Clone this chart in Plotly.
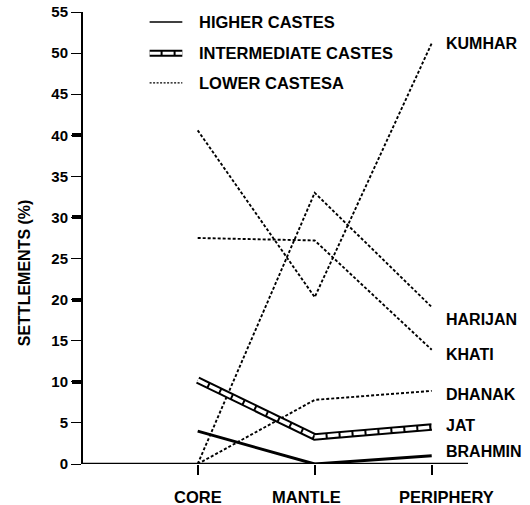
import plotly.graph_objects as go

zones = ["CORE", "MANTLE", "PERIPHERY"]
y_ticks = [0, 5, 10, 15, 20, 25, 30, 35, 40, 45, 50, 55]
y_major = [10, 20, 30, 40]

# Higher castes
brahmin = [4, 0, 1]
# Intermediate castes
jat = [10.2, 3.3, 4.5]
# Lower castes
kumhar = [40.6, 20.3, 51.2]
harijan = [0, 33, 19.1]
khati = [27.5, 27.2, 13.9]
dhanak = [0, 7.8, 8.9]

FONT = "Liberation Sans, Arial, sans-serif"
fig = go.Figure()

for name, vals in [("KUMHAR", kumhar), ("HARIJAN", harijan), ("KHATI", khati), ("DHANAK", dhanak)]:
    fig.add_trace(go.Scatter(x=zones, y=vals, mode="lines", name=name, showlegend=False,
                             line=dict(color="black", width=1.9, dash="3px,2px")))

# Intermediate castes: hollow double line
fig.add_trace(go.Scatter(x=zones, y=jat, mode="lines", showlegend=False,
                         line=dict(color="black", width=7.5)))
fig.add_trace(go.Scatter(x=zones, y=jat, mode="lines", showlegend=False,
                         line=dict(color="white", width=3.5, dash="11px,2px")))

# Higher castes
fig.add_trace(go.Scatter(x=zones, y=brahmin, mode="lines", showlegend=False,
                         line=dict(color="black", width=3), yaxis="y2"))

labels = [("KUMHAR", kumhar[-1], 0), ("HARIJAN", harijan[-1], -12), ("KHATI", khati[-1], -5),
          ("DHANAK", dhanak[-1], -4), ("JAT", jat[-1], 2), ("BRAHMIN", brahmin[-1], 4)]
for name, v, ys in labels:
    fig.add_annotation(x="PERIPHERY", y=v, text="<b>%s</b>" % name, showarrow=False,
                       xanchor="left", yanchor="middle", xshift=12, yshift=ys,
                       font=dict(family=FONT, size=16, color="black"))

# category labels under the axis
for z, xs in zip(zones, [0, -8, 15]):
    fig.add_annotation(x=z, y=0, text="<b>%s</b>" % z, showarrow=False, xanchor="center",
                       yanchor="middle", xshift=xs, yshift=-33,
                       font=dict(family=FONT, size=16.5, color="black"))

# Legend (drawn manually)
leg_x0, leg_x1, leg_tx = 0.173, 0.258, 0.297
rows = [0.978, 0.909, 0.843]
fig.add_shape(type="line", xref="paper", yref="paper", x0=leg_x0, x1=leg_x1, y0=rows[0], y1=rows[0],
              line=dict(color="black", width=1.5))
fig.add_shape(type="line", xref="paper", yref="paper", x0=leg_x0, x1=leg_x1, y0=rows[1], y1=rows[1],
              line=dict(color="black", width=7))
fig.add_shape(type="line", xref="paper", yref="paper", x0=leg_x0, x1=leg_x1, y0=rows[1], y1=rows[1],
              line=dict(color="white", width=3, dash="11px,2px"))
fig.add_shape(type="line", xref="paper", yref="paper", x0=leg_x0, x1=leg_x1, y0=rows[2], y1=rows[2],
              line=dict(color="black", width=1.2, dash="2px,1.5px"))
for txt, ry in zip(["HIGHER CASTES", "INTERMEDIATE CASTES", "LOWER CASTESA"], rows):
    fig.add_annotation(xref="paper", yref="paper", x=leg_tx, y=ry, text="<b>%s</b>" % txt,
                       showarrow=False, xanchor="left", yanchor="middle",
                       font=dict(family=FONT, size=16.5, color="black"))

fig.add_annotation(xref="paper", yref="paper", x=0, y=0.422, xshift=-59, text="<b>SETTLEMENTS (%)</b>",
                   textangle=-90, showarrow=False, xanchor="center", yanchor="middle",
                   font=dict(family=FONT, size=16, color="black"))

fig.update_layout(
    width=530, height=505,
    margin=dict(l=83, r=62, t=12, b=41),
    plot_bgcolor="white", paper_bgcolor="white",
    showlegend=False,
    font=dict(family=FONT, size=12, color="black"),
    xaxis=dict(type="category", range=[-0.98, 2.31], showgrid=False, zeroline=False,
               showline=False, ticks="outside", ticklen=10, tickwidth=1.5, tickcolor="black",
               showticklabels=False, automargin=False),
    yaxis=dict(range=[0, 55], tickvals=y_ticks, showgrid=False, zeroline=False,
               showline=True, linecolor="black", linewidth=2, ticks="outside", ticklen=10,
               tickwidth=1.3, tickcolor="black", automargin=False,
               tickfont=dict(family=FONT, size=15, color="black", weight="bold")),
    yaxis2=dict(range=[0, 55], tickvals=y_major, overlaying="y", side="left", showgrid=False,
                zeroline=False, showline=False, ticks="outside", ticklen=10, tickwidth=3.5,
                tickcolor="black", showticklabels=False, automargin=False),
)
# x axis baseline at y=0
fig.add_hline(y=0, line=dict(color="black", width=2.5))

fig.write_html("out.html", config={"displayModeBar": False},
               post_script="document.body.style.margin='0px';")
